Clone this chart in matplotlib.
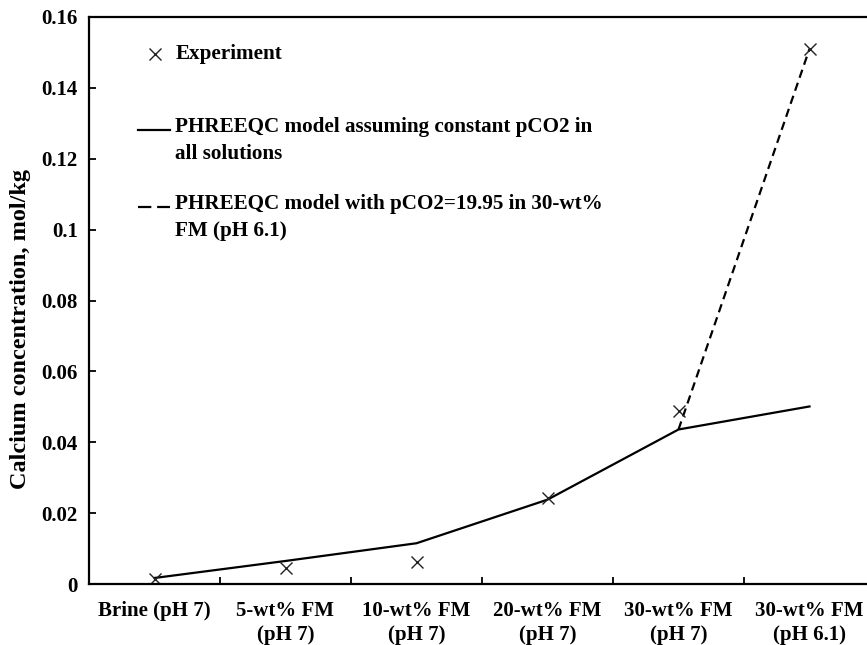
import matplotlib
matplotlib.use("Agg")
import matplotlib.pyplot as plt
import numpy as np

plt.rcParams['font.family'] = ['Liberation Serif', 'DejaVu Serif']
plt.rcParams['font.weight'] = 'bold'
plt.rcParams['axes.labelweight'] = 'bold'

categories = ["Brine (pH 7)", "5-wt% FM\n(pH 7)", "10-wt% FM\n(pH 7)",
              "20-wt% FM\n(pH 7)", "30-wt% FM\n(pH 7)", "30-wt% FM\n(pH 6.1)"]
experiment = [0.0014, 0.0045, 0.0062, 0.0244, 0.0487, 0.151]
model_const = [0.0017, 0.0065, 0.0115, 0.0238, 0.0436, 0.0501]
# high pCO2 run only starts from the 30-wt% (pH 7) point
model_pco2_idx = [4, 5]
model_pco2 = [0.0436, 0.151]

fig = plt.figure(figsize=(8.67, 6.45), dpi=100)
ax = fig.add_axes([89 / 867, (645 - 584) / 645, 786 / 867, 567 / 645])

x = np.arange(len(categories))
ax.plot(x, model_const, color='black', lw=1.6)
ax.plot(model_pco2_idx, model_pco2, color='black', lw=1.6, dashes=(3.8, 2.4))
ax.plot(x, experiment, ls='none', marker='x', ms=8, mew=1.0, color='#222222')

ax.set_xlim(-0.5, len(categories) - 0.5)
ax.set_ylim(0, 0.16)
ax.set_yticks(np.arange(0, 0.161, 0.02))
ax.set_yticklabels(['0', '0.02', '0.04', '0.06', '0.08', '0.1', '0.12', '0.14', '0.16'])
ax.set_xticks(x)
ax.set_xticklabels(categories, linespacing=1.3)
ax.set_xticks(np.arange(0.5, len(categories) - 1, 1), minor=True)

ax.tick_params(axis='y', direction='in', length=5, width=1.3, labelsize=15, pad=8)
ax.tick_params(axis='x', which='major', length=0, labelsize=15, pad=12)
ax.tick_params(axis='x', which='minor', direction='in', length=5, width=1.3)
for s in ax.spines.values():
    s.set_linewidth(1.6)

ax.set_ylabel("Calcium concentration, mol/kg", fontsize=17.5)
ax.yaxis.set_label_coords(-0.074, 0.45)

# legend drawn by hand so each handle sits on the first line of its label
tx = 0.110
fs = 15.2
ax.plot([0.084], [0.934], marker='x', ms=8, mew=1.0, color='#222222',
        transform=ax.transAxes, clip_on=False)
ax.text(tx, 0.934, "Experiment", transform=ax.transAxes, fontsize=fs, va='center')

ax.plot([0.062, 0.103], [0.800, 0.800], color='black', lw=1.6, transform=ax.transAxes)
ax.text(tx, 0.800 + 0.024, "PHREEQC model assuming constant pCO2 in\nall solutions",
        transform=ax.transAxes, fontsize=fs, va='top', linespacing=1.45)

ax.plot([0.062, 0.103], [0.665, 0.665], color='black', lw=1.6, dashes=(6, 2.6),
        transform=ax.transAxes)
ax.text(tx, 0.665 + 0.023, "PHREEQC model with pCO2=19.95 in 30-wt%\nFM (pH 6.1)",
        transform=ax.transAxes, fontsize=fs, va='top', linespacing=1.45)

fig.savefig("out.png", dpi=100)
